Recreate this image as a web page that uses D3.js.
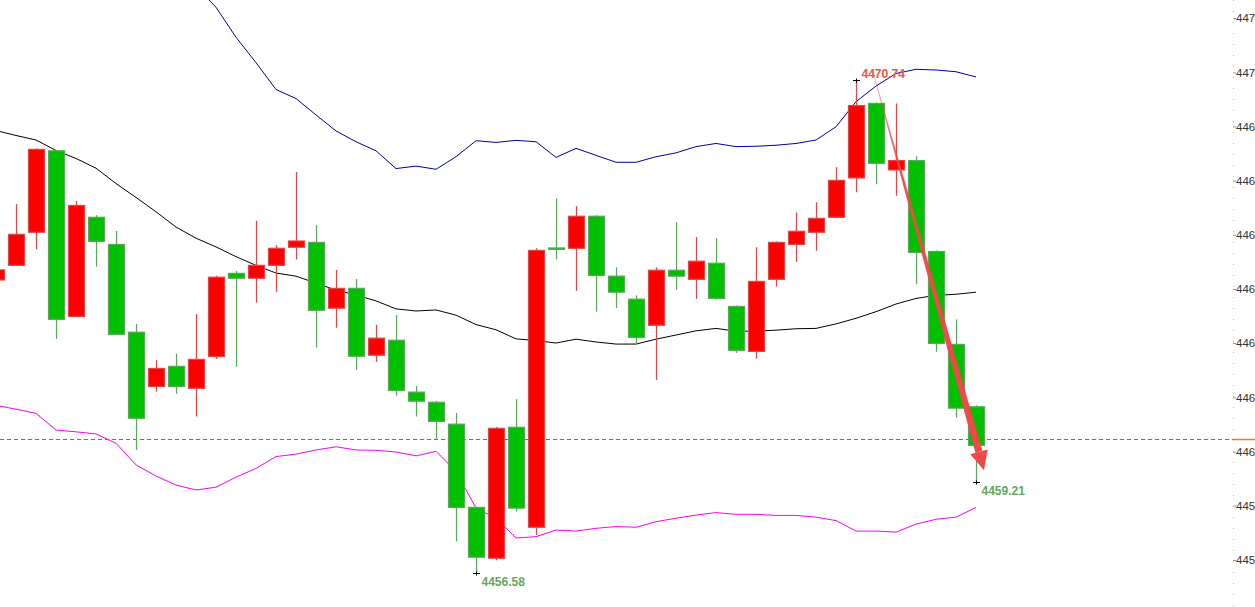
<!DOCTYPE html>
<html>
<head>
<meta charset="utf-8">
<script src="https://cdn.jsdelivr.net/npm/d3@7"></script>
<style>
    body { margin: 0; background: #fff; overflow: hidden; }
    svg { display: block; font-family: Arial, "Liberation Sans", sans-serif; }
</style>
</head>
<body>
<svg id="chart" width="1255" height="607"></svg>
<script>

// Data (bar index -1 is the partly hidden candle at the left edge)

const firstIndex = -1;

const opens = [4465.00, 4465.42, 4466.37, 4468.71, 4463.95, 4466.80, 4466.02, 4463.50, 4461.94, 4462.52,
               4461.89, 4462.80, 4465.19, 4465.05, 4465.42, 4465.94, 4466.08, 4464.19, 4464.76, 4462.84,
               4463.27, 4461.78, 4461.49, 4460.86, 4458.47, 4457.01, 4460.77, 4457.90, 4465.92, 4465.91,
               4466.83, 4465.11, 4464.45, 4463.70, 4465.28, 4465.02, 4465.48, 4464.24, 4462.95, 4465.02,
               4466.02, 4466.37, 4466.80, 4467.93, 4470.07, 4468.16, 4468.43, 4465.82, 4463.15, 4461.36];

const highs = [4465.52, 4467.18, 4468.78, 4468.73, 4467.27, 4466.86, 4466.41, 4463.74, 4462.70, 4462.88,
               4464.02, 4465.12, 4465.26, 4466.70, 4466.00, 4468.10, 4466.58, 4465.29, 4465.03, 4463.71,
               4463.99, 4461.96, 4461.53, 4461.18, 4458.47, 4460.78, 4461.58, 4465.91, 4467.34, 4467.12,
               4466.86, 4465.36, 4464.56, 4465.36, 4466.66, 4466.23, 4466.20, 4464.27, 4465.94, 4466.11,
               4466.94, 4467.23, 4468.24, 4470.74, 4470.10, 4470.07, 4468.55, 4465.85, 4463.87, 4461.40];

const lows = [4464.86, 4465.42, 4465.88, 4463.31, 4463.95, 4465.38, 4463.44, 4460.12, 4461.79, 4461.73,
              4461.08, 4462.73, 4462.51, 4464.35, 4464.66, 4465.59, 4463.06, 4463.63, 4462.42, 4462.65,
              4461.68, 4461.08, 4460.41, 4457.49, 4456.58, 4456.95, 4458.35, 4457.68, 4465.59, 4464.69,
              4464.09, 4464.20, 4463.15, 4462.13, 4464.72, 4464.46, 4464.43, 4462.91, 4462.74, 4464.81,
              4465.52, 4465.84, 4466.80, 4467.52, 4467.75, 4467.42, 4464.88, 4462.94, 4461.05, 4459.21];

const closes = [4465.29, 4466.31, 4468.75, 4463.87, 4467.14, 4466.11, 4463.44, 4461.03, 4462.46, 4461.94,
                4462.72, 4465.08, 4465.05, 4465.42, 4465.91, 4466.12, 4464.13, 4464.76, 4462.81, 4463.33,
                4461.83, 4461.52, 4460.94, 4458.47, 4457.04, 4460.74, 4458.45, 4465.85, 4465.90, 4466.83,
                4465.13, 4464.65, 4463.35, 4465.28, 4465.11, 4465.54, 4464.47, 4462.98, 4464.96, 4466.08,
                4466.40, 4466.77, 4467.86, 4470.01, 4468.35, 4468.43, 4465.79, 4463.18, 4461.32, 4460.25];

// Bollinger bands
const upperBand = [4477.18, 4477.01, 4476.87, 4476.75, 4476.34, 4475.84, 4475.23, 4475.05, 4474.55, 4473.93,
                   4473.43, 4472.83, 4471.97, 4471.24, 4470.47, 4470.21, 4469.74, 4469.28, 4468.97, 4468.71,
                   4468.20, 4468.27, 4468.18, 4468.54, 4469.00, 4468.95, 4469.01, 4468.97, 4468.52, 4468.78,
                   4468.58, 4468.38, 4468.38, 4468.54, 4468.65, 4468.83, 4468.92, 4468.83, 4468.84, 4468.87,
                   4468.92, 4469.02, 4469.40, 4470.12, 4470.57, 4470.93, 4471.05, 4471.03, 4470.98, 4470.83];

const middleBand = [4469.29, 4469.15, 4469.02, 4468.72, 4468.49, 4468.21, 4467.77, 4467.37, 4466.96, 4466.52,
                    4466.20, 4465.95, 4465.67, 4465.42, 4465.20, 4465.11, 4464.91, 4464.71, 4464.57, 4464.40,
                    4464.17, 4464.11, 4464.14, 4463.99, 4463.72, 4463.57, 4463.31, 4463.26, 4463.19, 4463.30,
                    4463.22, 4463.16, 4463.16, 4463.30, 4463.42, 4463.54, 4463.61, 4463.53, 4463.53, 4463.56,
                    4463.60, 4463.61, 4463.74, 4463.90, 4464.09, 4464.31, 4464.47, 4464.56, 4464.59, 4464.65];

const lowerBand = [4461.40, 4461.29, 4461.17, 4460.69, 4460.64, 4460.58, 4460.31, 4459.69, 4459.37, 4459.11,
                   4458.97, 4459.05, 4459.34, 4459.59, 4459.93, 4460.00, 4460.12, 4460.21, 4460.12, 4460.11,
                   4460.06, 4459.95, 4460.08, 4459.50, 4458.45, 4458.16, 4457.59, 4457.63, 4457.82, 4457.79,
                   4457.87, 4457.92, 4457.90, 4458.06, 4458.16, 4458.25, 4458.32, 4458.27, 4458.27, 4458.24,
                   4458.24, 4458.19, 4458.09, 4457.79, 4457.79, 4457.76, 4457.99, 4458.13, 4458.19, 4458.47];

// Price axis ticks, and the part of each label that fits in the window
const tickValues = [4456.96, 4458.52, 4460.07, 4461.63, 4463.19, 4464.74, 4466.30, 4467.85, 4469.41, 4470.96, 4472.52];
const tickLabels = ["445", "445", "446", "446", "446", "446", "446", "446", "446", "447", "447"];

// Dashed price line
const priceLine = 4460.44;

// High / low labels: [bar index, price, below?]
const markIndex = [42, 23, 48];
const markPrice = [4470.74, 4456.58, 4459.21];
const markBelow = [false, true, true];

// Trend arrow: [bar index, price] start and end
const arrowFrom = [42.85, 4470.97];
const arrowTo = [48.4, 4459.54];


// Build candle objects
const candles = opens.map(function(o, i) {
    return {
        idx: firstIndex + i,
        open: o,
        high: highs[i],
        low: lows[i],
        close: closes[i]
    };
});

// Scales
const width = 1255;
const height = 607;
const axisX = 1233;

const x = d3.scaleLinear().domain([0, 48]).range([16, 976]);
const y = d3.scaleLinear().domain([4455.61, 4473.04]).range([height, 0]);

const svg = d3.select("#chart");

const upColor = "#ff0000";
const upEdge = "#e04848";
const downColor = "#00c000";
const downEdge = "#5aa85a";

// Bands
const bandLine = d3.line()
    .x(function(d, i) { return x(firstIndex + i); })
    .y(function(d) { return y(d); });

const bands = [
    { values: upperBand, color: "#0000a8" },
    { values: middleBand, color: "#000000" },
    { values: lowerBand, color: "#ff00ff" }
];

svg.selectAll("path.band")
    .data(bands)
    .enter()
    .append("path")
    .attr("class", "band")
    .attr("d", function(d) { return bandLine(d.values); })
    .attr("fill", "none")
    .attr("stroke", function(d) { return d.color; })
    .attr("stroke-width", 1);

// Dashed price line
svg.append("line")
    .attr("x1", 0)
    .attr("x2", axisX)
    .attr("y1", Math.round(y(priceLine)) + 0.5)
    .attr("y2", Math.round(y(priceLine)) + 0.5)
    .attr("stroke", "#2f7fd8")
    .attr("stroke-dasharray", "4,3");

svg.append("line")
    .attr("x1", axisX)
    .attr("x2", width)
    .attr("y1", Math.round(y(priceLine)) + 0.5)
    .attr("y2", Math.round(y(priceLine)) + 0.5)
    .attr("stroke", "#e0822a")
    .attr("stroke-width", 1.5);

// Candles
const candleGroup = svg.append("g").attr("class", "candles");

const c = candleGroup.selectAll("g")
    .data(candles)
    .enter()
    .append("g");

c.append("line")
    .attr("x1", function(d) { return Math.round(x(d.idx)) + 0.5; })
    .attr("x2", function(d) { return Math.round(x(d.idx)) + 0.5; })
    .attr("y1", function(d) { return y(d.high); })
    .attr("y2", function(d) { return y(d.low); })
    .attr("stroke", function(d) { return d.close >= d.open ? upEdge : downEdge; })
    .attr("stroke-width", 1.2);

c.append("rect")
    .attr("x", function(d) { return Math.round(x(d.idx)) - 7.5; })
    .attr("width", 16)
    .attr("y", function(d) { return y(Math.max(d.open, d.close)); })
    .attr("height", function(d) { return Math.max(1.5, y(Math.min(d.open, d.close)) - y(Math.max(d.open, d.close))); })
    .attr("fill", function(d) { return d.close >= d.open ? upColor : downColor; })
    .attr("stroke", function(d) { return d.close >= d.open ? upEdge : downEdge; })
    .attr("stroke-width", 1.2);

// Trend arrow (tapered shaft + head)
const drawArrow = function() {
    const p0 = [x(arrowFrom[0]), y(arrowFrom[1])];
    const p1 = [x(arrowTo[0]), y(arrowTo[1])];
    const dx = p1[0] - p0[0];
    const dy = p1[1] - p0[1];
    const len = Math.sqrt(dx * dx + dy * dy);
    const ux = dx / len, uy = dy / len;
    const nx = -uy, ny = ux;
    const headLen = 19, headHalf = 9, shaftHalf = 3.6;
    const b = [p1[0] - ux * headLen, p1[1] - uy * headLen];

    const shaft = [
        [p0[0] + nx * 0.3, p0[1] + ny * 0.3],
        [b[0] + nx * shaftHalf, b[1] + ny * shaftHalf],
        [b[0] - nx * shaftHalf, b[1] - ny * shaftHalf],
        [p0[0] - nx * 0.3, p0[1] - ny * 0.3]
    ];
    const head = [
        [b[0] + nx * headHalf, b[1] + ny * headHalf],
        p1,
        [b[0] - nx * headHalf, b[1] - ny * headHalf]
    ];

    const grad = svg.append("defs").append("linearGradient")
        .attr("id", "arrowGrad")
        .attr("gradientUnits", "userSpaceOnUse")
        .attr("x1", p0[0]).attr("y1", p0[1])
        .attr("x2", p1[0]).attr("y2", p1[1]);
    grad.append("stop").attr("offset", "0%").attr("stop-color", "#f04848").attr("stop-opacity", 0.45);
    grad.append("stop").attr("offset", "25%").attr("stop-color", "#f04848").attr("stop-opacity", 0.95);
    grad.append("stop").attr("offset", "100%").attr("stop-color", "#f04848").attr("stop-opacity", 1);

    svg.append("polygon")
        .attr("points", shaft.map(function(p) { return p.join(","); }).join(" "))
        .attr("fill", "url(#arrowGrad)");
    svg.append("polygon")
        .attr("points", head.map(function(p) { return p.join(","); }).join(" "))
        .attr("fill", "#f04848");
};

drawArrow();

// High / low markers and labels
markIndex.forEach(function(k, i) {
    const px = Math.round(x(k)) + 0.5;
    const py = Math.round(y(markPrice[i])) + 0.5;

    svg.append("path")
        .attr("d", "M" + (px - 3.5) + "," + py + "H" + (px + 3.5) + "M" + px + "," + (py - 2) + "V" + (py + 2))
        .attr("stroke", "#000")
        .attr("stroke-width", 1);

    svg.append("text")
        .attr("x", px + 5)
        .attr("y", markBelow[i] ? py + 12 : py - 3)
        .attr("font-size", "12px")
        .attr("font-weight", "bold")
        .attr("fill", markBelow[i] ? "#62a85e" : "#e8564c")
        .text(markPrice[i].toFixed(2));
});

// Price axis on the right
const axis = d3.axisRight(y)
    .tickValues(tickValues)
    .tickSize(3)
    .tickPadding(0)
    .tickFormat(function(d, i) { return tickLabels[i]; });

const axisG = svg.append("g")
    .attr("transform", "translate(" + axisX + ",0)")
    .call(axis);

axisG.select(".domain").remove();
axisG.selectAll(".tick line").attr("stroke", "#999");
axisG.selectAll(".tick text")
    .attr("fill", "#333")
    .attr("font-size", "11.5px")
    .attr("font-family", "Arial, 'Liberation Sans', sans-serif");

svg.append("line")
    .attr("x1", axisX + 0.5)
    .attr("x2", axisX + 0.5)
    .attr("y1", 0)
    .attr("y2", height)
    .attr("stroke", "#bbb")
    .attr("stroke-dasharray", "1,10");

</script>
</body>
</html>
